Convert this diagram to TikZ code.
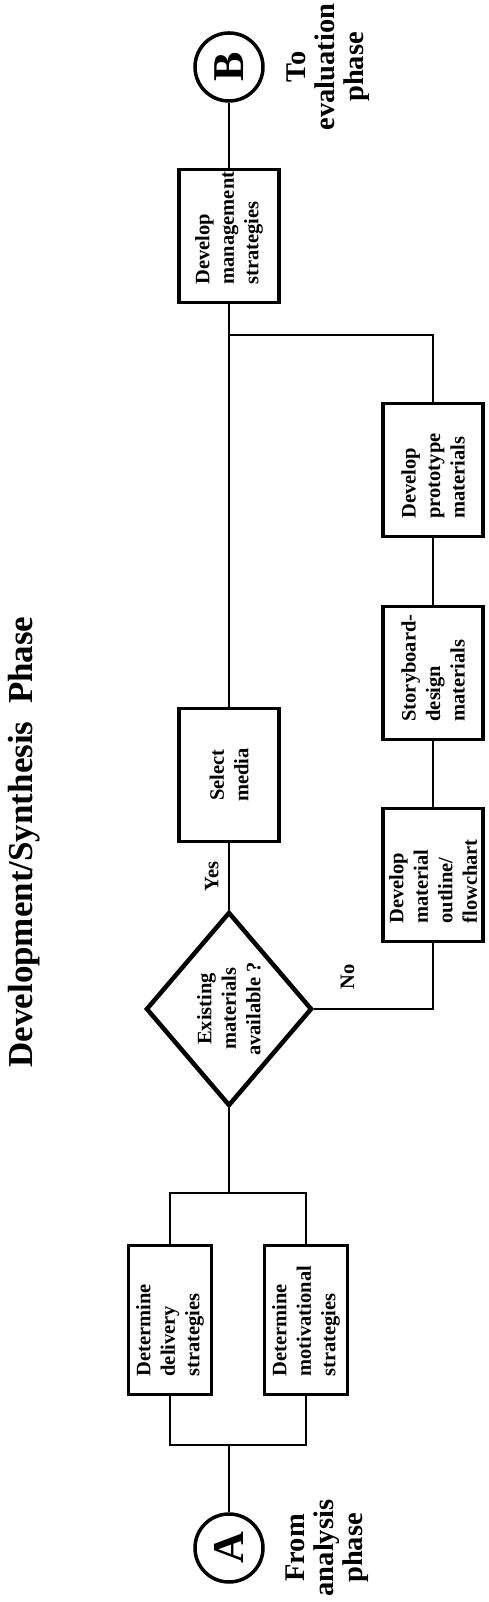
\documentclass[tikz,border=0pt]{standalone}
\usepackage{fontspec}
\setmainfont{Liberation Serif}
\usetikzlibrary{shapes.geometric,positioning}

\newcommand{\flowfont}{\bfseries\fontsize{20.5}{24.5}\selectfont}
\newcommand{\notefont}{\bfseries\fontsize{28.5}{29}\selectfont}

\tikzset{
  step-box/.style={draw, rectangle, line width=3.5pt, minimum width=133pt, minimum height=100pt,
    text width=97pt, inner xsep=18pt, align=left, font=\flowfont},
  wide-box/.style={step-box, minimum width=149pt, minimum height=83pt, text width=113pt},
  decision/.style={draw, diamond, line width=4.5pt, minimum width=194pt, minimum height=166pt,
    inner sep=0pt, align=center, font=\flowfont},
  terminal/.style={draw, circle, line width=3.5pt, minimum size=68pt, inner sep=0pt,
    font=\bfseries\fontsize{44}{44}\selectfont},
  side-note/.style={align=center, font=\notefont},
  flow/.style={line width=2pt},
}

\begin{document}
\begin{tikzpicture}[x=1pt, y=1pt]
\begin{scope}[rotate=90, transform shape]
  \useasboundingbox (0,0) rectangle (1602,488);
  % title
  \node [anchor=base, font=\bfseries\fontsize{35}{35}\selectfont] (phase-title) at (760,455)
        {Development/Synthesis~~Phase};

  % entry and exit
  \node [terminal] (circle-a) at (54,259) {A};
  \node [terminal] (circle-b) at (1535,259) {B};
  \node [side-note, below of = circle-a, node distance = 98pt] (from-note) {From\\analysis\\phase};
  \node [side-note, below of = circle-b, node distance = 99pt] (to-note) {To\\evaluation\\phase};

  % strategies
  \node [wide-box] (delivery) at (282,318) {Determine\\delivery\\strategies};
  \node [wide-box] (motivational) at (282,182) {Determine\\motivational\\strategies};
  \coordinate (split-in) at (157,259);
  \coordinate (split-out) at (409,259);

  % main line
  \node [decision] (existing) at (593,259) {Existing\\materials\\available ?};
  \node [step-box, align=center] (select-media) at (827,259) {Select\\media};
  \node [step-box] (management) at (1366,259) {Develop\\\mbox{management}\\strategies};

  % new materials branch
  \node [step-box] (outline) at (727,55) {Develop\\material\\outline/\\flowchart};
  \node [step-box] (storyboard) at (929,55) {\mbox{Storyboard-}\\design\\materials};
  \node [step-box] (prototype) at (1132,55) {Develop\\prototype\\materials};
  \coordinate (merge) at (1267,259);

  \draw [flow] (circle-a) -- (split-in);
  \draw [flow] (delivery.west) -| (split-in) |- (motivational.west);
  \draw [flow] (delivery.east) -| (split-out) |- (motivational.east);
  \draw [flow] (split-out) -- (existing.west);
  \draw [flow] (existing.east) -- node [above=6pt, font=\flowfont] (yes-label) {Yes} (select-media.west);
  \draw [flow] (existing.south) |- node [pos=0.14, right=15pt, font=\flowfont] (no-label) {No} (outline.west);
  \draw [flow] (outline) -- (storyboard);
  \draw [flow] (storyboard) -- (prototype);
  \draw [flow] (prototype.east) -| (merge);
  \draw [flow] (select-media.east) -- (management.west);
  \draw [flow] (management) -- (circle-b);
\end{scope}
\end{tikzpicture}
\end{document}
